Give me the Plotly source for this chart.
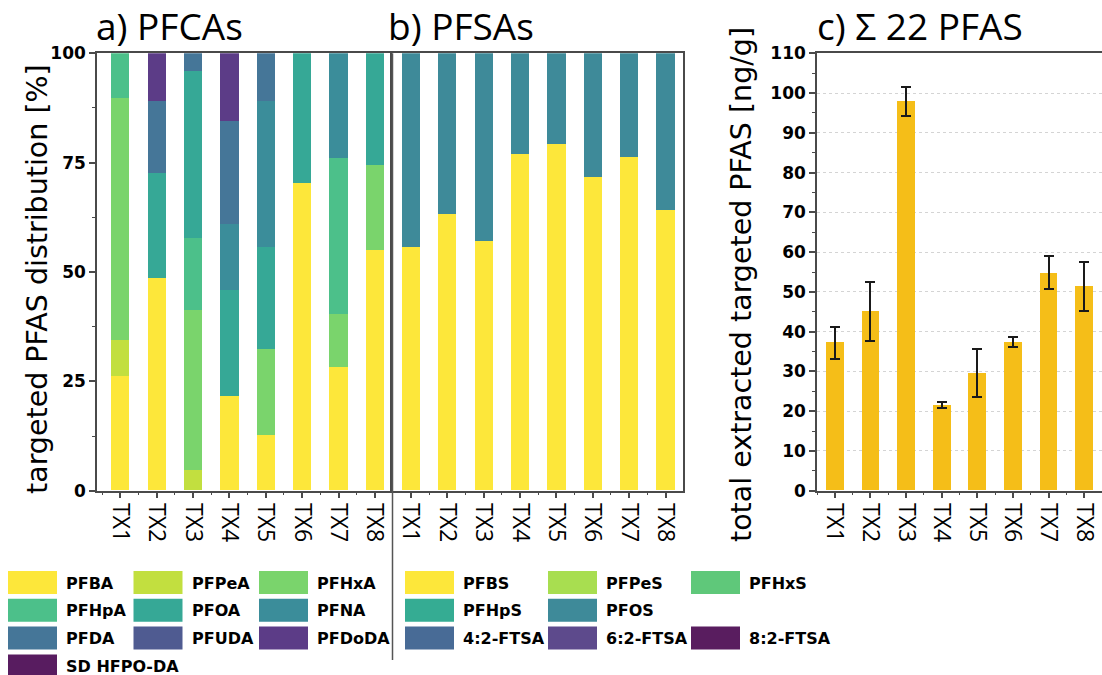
import plotly.graph_objects as go

# ---------------- data ----------------
categories = ["TX1", "TX2", "TX3", "TX4", "TX5", "TX6", "TX7", "TX8"]

# a) PFCAs distribution [%]
pfca_names = ["PFBA", "PFPeA", "PFHxA", "PFHpA", "PFOA", "PFNA", "PFDA", "PFUDA", "PFDoDA", "SD HFPO-DA"]
PFBA = [26.1, 48.6, 0.0, 21.6, 12.7, 70.2, 28.2, 55.0]
PFPeA = [8.3, 0.0, 4.7, 0.0, 0.0, 0.0, 0.0, 0.0]
PFHxA = [55.4, 0.0, 36.6, 0.0, 19.6, 0.0, 12.2, 19.5]
PFHpA = [10.2, 0.0, 16.4, 0.0, 0.0, 0.0, 35.7, 0.0]
PFOA = [0.0, 23.9, 38.2, 24.3, 23.4, 29.8, 0.0, 25.5]
PFNA = [0.0, 0.0, 0.0, 14.9, 33.4, 0.0, 23.9, 0.0]
PFDA = [0.0, 16.6, 4.1, 23.7, 10.9, 0.0, 0.0, 0.0]
PFUDA = [0.0, 0.0, 0.0, 0.0, 0.0, 0.0, 0.0, 0.0]
PFDoDA = [0.0, 10.9, 0.0, 15.5, 0.0, 0.0, 0.0, 0.0]
SD_HFPO_DA = [0.0, 0.0, 0.0, 0.0, 0.0, 0.0, 0.0, 0.0]
pfca_values = [PFBA, PFPeA, PFHxA, PFHpA, PFOA, PFNA, PFDA, PFUDA, PFDoDA, SD_HFPO_DA]
pfca_colors = ["#FDE73A", "#C2DF3F", "#7AD46C", "#4CC08A", "#36A896",
               "#3B8D9A", "#457698", "#4F5B91", "#5C3C87", "#581C60"]

# b) PFSAs distribution [%]
pfsa_names = ["PFBS", "PFPeS", "PFHxS", "PFHpS", "PFOS", "4:2-FTSA", "6:2-FTSA", "8:2-FTSA"]
PFBS = [55.7, 63.1, 57.0, 77.0, 79.3, 71.6, 76.2, 64.2]
PFPeS = [0.0, 0.0, 0.0, 0.0, 0.0, 0.0, 0.0, 0.0]
PFHxS = [0.0, 0.0, 0.0, 0.0, 0.0, 0.0, 0.0, 0.0]
PFHpS = [0.0, 0.0, 0.0, 0.0, 0.0, 0.0, 0.0, 0.0]
PFOS = [44.3, 36.9, 43.0, 23.0, 20.7, 28.4, 23.8, 35.8]
FTSA_42 = [0.0, 0.0, 0.0, 0.0, 0.0, 0.0, 0.0, 0.0]
FTSA_62 = [0.0, 0.0, 0.0, 0.0, 0.0, 0.0, 0.0, 0.0]
FTSA_82 = [0.0, 0.0, 0.0, 0.0, 0.0, 0.0, 0.0, 0.0]
pfsa_values = [PFBS, PFPeS, PFHxS, PFHpS, PFOS, FTSA_42, FTSA_62, FTSA_82]
pfsa_colors = ["#FDE73A", "#A8DE50", "#5FC87A", "#35AC93", "#3E8A99",
               "#486B96", "#5D4A8C", "#591D5F"]
# legend grid slot of each PFSA entry (row, col) - one slot left empty
pfsa_slots = [(0, 0), (0, 1), (0, 2), (1, 0), (1, 1), (2, 0), (2, 1), (2, 2)]

# c) total extracted targeted PFAS [ng/g]
total_pfas = [37.2, 45.1, 97.9, 21.5, 29.6, 37.4, 54.8, 51.4]
total_err = [4.0, 7.4, 3.7, 0.8, 6.1, 1.3, 4.1, 6.2]

# ---------------- layout helpers ----------------
W, H = 1102, 675


def fx(x):
    return x / W


def fy(y):
    return 1 - y / H


xs = list(range(len(categories)))
AX = "#4a4a4a"
TICKFONT = dict(family="DejaVu Sans", size=17, color="black", weight="bold")
CATFONT = dict(family="Open Sans", size=23, color="black")
TITLEFONT = dict(family="Open Sans", size=37, color="black")
YTFONT = dict(family="DejaVu Sans", size=28.5, color="black")

fig = go.Figure()

for name, vals, col in zip(pfca_names, pfca_values, pfca_colors):
    fig.add_trace(go.Bar(x=xs, y=vals, name=name, marker=dict(color=col, line=dict(width=0)),
                         width=0.5, xaxis="x", yaxis="y", showlegend=False))
for name, vals, col in zip(pfsa_names, pfsa_values, pfsa_colors):
    fig.add_trace(go.Bar(x=xs, y=vals, name=name, marker=dict(color=col, line=dict(width=0)),
                         width=0.5, xaxis="x2", yaxis="y2", showlegend=False))
fig.add_trace(go.Bar(x=xs, y=total_pfas, name="Σ 22 PFAS",
                     marker=dict(color="#F5BE18", line=dict(width=0)), width=0.5,
                     error_y=dict(type="data", array=total_err, color="#1a1a1a", thickness=2, width=5),
                     xaxis="x3", yaxis="y3", showlegend=False))

ydom = [fy(490.7), fy(53.3)]


def xaxis_cfg(dom, rng, anchor):
    return dict(domain=dom, range=rng, anchor=anchor, automargin=False, ticklabeloverflow="allow",
                tickmode="array", tickvals=xs, ticktext=categories,
                tickangle=90, ticks="outside", ticklen=6, tickwidth=1.5, tickcolor=AX,
                showline=True, linecolor=AX, linewidth=1.5, mirror=True,
                tickfont=CATFONT, showgrid=False, zeroline=False,
                minor=dict(tickmode="array", tickvals=[i + 0.5 for i in range(-1, 8)],
                           ticks="outside", ticklen=3, tickwidth=1.2, tickcolor=AX))


fig.update_layout(
    width=W, height=H, margin=dict(l=0, r=0, t=0, b=0, autoexpand=False),
    plot_bgcolor="white", paper_bgcolor="white", barmode="stack", bargap=0,
    xaxis=xaxis_cfg([fx(97), fx(392)], [-0.64, 7.47], "y"),
    xaxis2=xaxis_cfg([fx(392), fx(683)], [-0.52, 7.48], "y2"),
    xaxis3=xaxis_cfg([fx(817), 1.0], [-0.5, 7.5], "y3"),
    yaxis=dict(domain=ydom, anchor="x", automargin=False, range=[0, 100], tickvals=[0, 25, 50, 75, 100],
               ticks="outside", ticklen=6, tickwidth=1.5, tickcolor=AX, tickfont=TICKFONT,
               showline=True, linecolor=AX, linewidth=1.5, mirror=False, showgrid=False, zeroline=False,
               minor=dict(tickvals=[12.5, 37.5, 62.5, 87.5], ticks="outside", ticklen=3,
                          tickwidth=1.2, tickcolor=AX)),
    yaxis2=dict(domain=ydom, anchor="x2", automargin=False, range=[0, 100], showticklabels=False, ticks="",
                showline=True, linecolor=AX, linewidth=1.5, mirror=True, showgrid=False, zeroline=False),
    yaxis3=dict(domain=ydom, anchor="x3", automargin=False, range=[0, 110], tickvals=list(range(0, 111, 10)),
                ticks="outside", ticklen=6, tickwidth=1.5, tickcolor=AX, tickfont=TICKFONT,
                showline=True, linecolor=AX, linewidth=1.5, mirror=False,
                showgrid=True, gridcolor="#d4d4d4", griddash="dot", gridwidth=1, zeroline=False,
                minor=dict(tickvals=list(range(5, 110, 10)), ticks="outside", ticklen=3,
                           tickwidth=1.2, tickcolor=AX, showgrid=False)),
)

shapes = []
annotations = []

# divider line between the PFCA and PFSA parts
shapes.append(dict(type="line", xref="paper", yref="paper", x0=fx(392.5), x1=fx(392.5),
                   y0=fy(53.3), y1=fy(660), line=dict(color="#555555", width=1.5)))

# panel titles
for txt, x in [("a) PFCAs", 94), ("b) PFSAs", 386), ("c) Σ 22 PFAS", 815)]:
    annotations.append(dict(text=txt, x=fx(x), y=fy(53), xref="paper", yref="paper",
                            xanchor="left", yanchor="bottom", showarrow=False, font=TITLEFONT))

# y axis titles
annotations.append(dict(text="targeted PFAS distribution [%]", x=fx(37), y=fy(279), xref="paper",
                        yref="paper", textangle=-90, showarrow=False, font=YTFONT,
                        xanchor="center", yanchor="middle"))
annotations.append(dict(text="total extracted targeted PFAS [ng/g]", x=fx(741), y=fy(285), xref="paper",
                        yref="paper", textangle=-90, showarrow=False, font=YTFONT,
                        xanchor="center", yanchor="middle"))

# custom legends
LEGFONT = dict(family="DejaVu Sans", size=16, color="black", weight="bold")


def legend_item(name, color, x0, y0):
    shapes.append(dict(type="rect", xref="paper", yref="paper", x0=fx(x0), x1=fx(x0 + 49),
                       y0=fy(y0 + 23), y1=fy(y0), fillcolor=color, line=dict(width=0)))
    annotations.append(dict(text=name, x=fx(x0 + 56), y=fy(y0 + 12), xref="paper", yref="paper",
                            xanchor="left", yanchor="middle", showarrow=False, font=LEGFONT))


for i, (name, col) in enumerate(zip(pfca_names, pfca_colors)):
    r, c = divmod(i, 3)
    legend_item(name, col, 8 + c * 125.5, 571 + r * 27.8)

for (r, c), name, col in zip(pfsa_slots, pfsa_names, pfsa_colors):
    legend_item(name, col, 405 + c * 143, 571 + r * 27.8)

fig.update_layout(shapes=shapes, annotations=annotations)

fig.write_html("out.html")
